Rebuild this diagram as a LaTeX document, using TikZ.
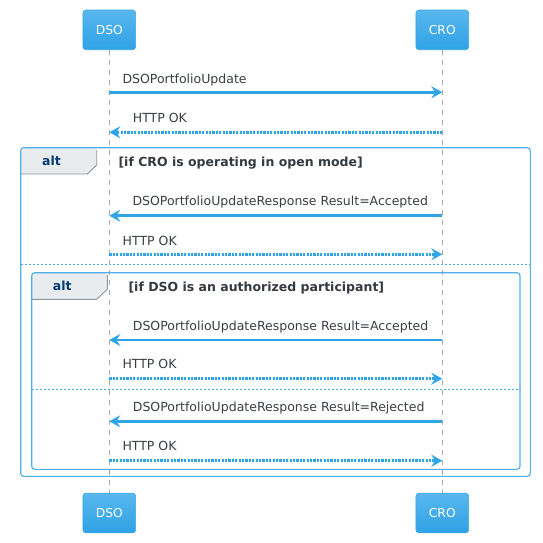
\documentclass[tikz,border=0pt]{standalone}
\usepackage{fontspec}
\setmainfont{DejaVu Sans}
\usetikzlibrary{arrows.meta}
\definecolor{blu}{HTML}{2FA4E7}
\definecolor{frameblu}{HTML}{4DAFEA}
\definecolor{boxtop}{HTML}{58B7ED}
\definecolor{boxbot}{HTML}{2FA2E6}
\definecolor{boxline}{HTML}{3AA6E6}
\definecolor{lifegray}{HTML}{A8A8A8}
\definecolor{msgtxt}{HTML}{3A3F44}
\definecolor{tabfill}{HTML}{E9ECEF}
\definecolor{tabline}{HTML}{8C959E}
\definecolor{altblue}{HTML}{033C73}
\definecolor{guardtxt}{HTML}{343A40}
\begin{document}
\begin{tikzpicture}[x=1pt,y=-1pt,
  part/.style={rounded corners=3pt, top color=boxtop, bottom color=boxbot, draw=boxline, line width=0.6pt,
    minimum width=52.7pt, minimum height=39.7pt, inner sep=0pt, text=white, font=\fontsize{12.3}{14}\selectfont},
  life/.style={draw=lifegray, line width=0.9pt, dash pattern=on 5pt off 5pt},
  msg/.style={anchor=base west, inner sep=0pt, text=msgtxt, font=\fontsize{12.5}{15}\selectfont},
  guard/.style={anchor=base west, inner sep=0pt, text=guardtxt, font=\fontsize{12.5}{15}\selectfont\bfseries},
  altlbl/.style={anchor=base west, inner sep=0pt, text=altblue, font=\fontsize{12.5}{15}\selectfont\bfseries},
  syncarrow/.style={draw=blu, line width=2.6pt, -{Stealth[length=11pt, width=12pt, inset=4pt]}},
  retarrow/.style={draw=blu, line width=2.6pt, dash pattern=on 2.2pt off 1.2pt, -{Stealth[length=11pt, width=12pt, inset=4pt]}},
  frame/.style={draw=frameblu, line width=1.1pt, rounded corners=3pt},
  sepline/.style={draw=frameblu, line width=0.9pt, dash pattern=on 2pt off 2pt},
  tabshape/.style={fill=tabfill},
  tabedge/.style={draw=tabline, line width=0.9pt}
]
\useasboundingbox (0,0) rectangle (542,543);
\fill[white] (0,0) rectangle (542,543);

% participants
\node[part] (dsoT) at (109.3,29.9) {DSO};
\node[part] (croT) at (442.3,29.9) {CRO};
\node[part] (dsoB) at (109.3,513) {DSO};
\node[part] (croB) at (442.3,513) {CRO};

% lifelines
\draw[life] (dsoT.south) -- (dsoB.north);
\draw[life] (croT.south) -- (croB.north);

% outer alt frame
\fill[tabshape, rounded corners=3pt] (20.7,174) -- (20.7,147.7) -- (96.7,147.7) -- (96.7,165) [sharp corners] -- (87.3,174) -- cycle;
\draw[tabedge] (96.7,150) -- (96.7,165) -- (87.3,174) -- (20.7,174);
\draw[frame] (20.7,147.7) rectangle (530.3,476.3);
\node[altlbl] (alt1) at (42,165.7) {alt};
\node[guard] (g1) at (118.3,166.7) {[if CRO is operating in open mode]};
\draw[sepline] (20.7,264.3) -- (530.3,264.3);

% inner alt frame
\fill[tabshape, rounded corners=3pt] (31.7,299.3) -- (31.7,272.7) -- (107.3,272.7) -- (107.3,289.3) [sharp corners] -- (96.7,299.3) -- cycle;
\draw[tabedge] (107.3,275) -- (107.3,289.3) -- (96.7,299.3) -- (31.7,299.3);
\draw[frame] (31.7,272.7) rectangle (520,469.3);
\node[altlbl] (alt2) at (52.7,290) {alt};
\node[guard] (g2) at (128.3,291) {[if DSO is an authorized participant]};
\draw[sepline] (31.7,389.3) -- (520,389.3);

% message anchor points
\foreach \n/\y in {1/92.3,2/132.3,3/215.7,4/254.3,5/340,6/378.7,7/421.3,8/460.7}{
  \coordinate (d\n) at (109.3,\y);
  \coordinate (c\n) at (442.3,\y);
}

% messages
\node[msg] (l1) at (122.3,83) {DSOPortfolioUpdate};
\draw[syncarrow] (d1) -- (c1);
\node[msg] (l2) at (132.7,122.3) {HTTP OK};
\draw[retarrow] (c2) -- (d2);
\node[msg] (l3) at (132.3,205) {DSOPortfolioUpdateResponse Result=Accepted};
\draw[syncarrow] (c3) -- (d3);
\node[msg] (l4) at (122.5,245) {HTTP OK};
\draw[retarrow] (d4) -- (c4);
\node[msg] (l5) at (132.7,330) {DSOPortfolioUpdateResponse Result=Accepted};
\draw[syncarrow] (c5) -- (d5);
\node[msg] (l6) at (122.3,368.7) {HTTP OK};
\draw[retarrow] (d6) -- (c6);
\node[msg] (l7) at (132.7,411) {DSOPortfolioUpdateResponse Result=Rejected};
\draw[syncarrow] (c7) -- (d7);
\node[msg] (l8) at (122.3,450.7) {HTTP OK};
\draw[retarrow] (d8) -- (c8);
\end{tikzpicture}
\end{document}
